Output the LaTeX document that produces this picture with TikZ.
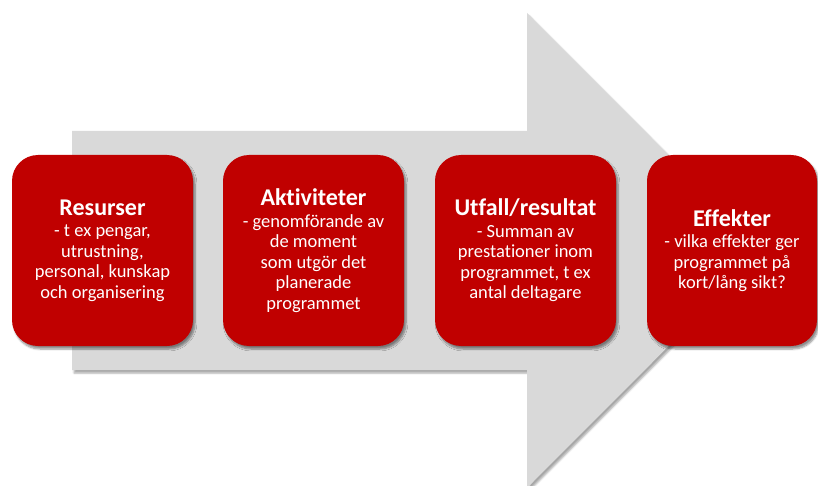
\documentclass[tikz,border=0pt]{standalone}
\usepackage{fontspec}
\setmainfont[Ligatures={NoCommon}]{Carlito}
\usetikzlibrary{shadows.blur}
\definecolor{boxred}{HTML}{C00000}
\definecolor{arrowgray}{HTML}{D9D9D9}
\tikzset{
  stagebox/.style={fill=boxred, draw=none, rounded corners=26pt,
    minimum width=181pt, minimum height=191pt, inner sep=0pt,
    text=white, align=center, font=\fontsize{18.5}{20.5}\selectfont,
    blur shadow={shadow xshift=2pt, shadow yshift=-3pt, shadow blur steps=6, shadow opacity=45}},
  flowarrow/.style={fill=arrowgray, draw=none,
    blur shadow={shadow xshift=2pt, shadow yshift=-3pt, shadow blur steps=5, shadow opacity=35}}
}
\newcommand{\stagetitle}[1]{{\fontsize{24}{22}\selectfont\bfseries #1}\\[1pt]}
\begin{document}
\begin{tikzpicture}[x=1pt,y=-1pt]
  \useasboundingbox (0,0) rectangle (818,486);
  % large background arrow
  \path[flowarrow] (72,131) -- (527,131) -- (527,13) -- (764,250.5)
    -- (527,488) -- (527,370) -- (72,370) -- cycle;
  % the four stages
  \node[stagebox] (b1) at (102.5,250.5) {\stagetitle{Resurser}- t ex pengar,\\utrustning,\\personal, kunskap\\och organisering};
  \node[stagebox] (b2) at (313.5,250.5) {\stagetitle{Aktiviteter}- genomförande av\\de moment\\som utgör det\\planerade\\programmet};
  \node[stagebox] (b3) at (525.5,250.5) {\stagetitle{Utfall/resultat}- Summan av\\prestationer inom\\programmet, t ex\\antal deltagare};
  \node[stagebox, minimum width=170pt] (b4) at (732,250.5) {\stagetitle{Effekter}- vilka effekter ger\\programmet på\\kort/lång sikt?};
\end{tikzpicture}
\end{document}
